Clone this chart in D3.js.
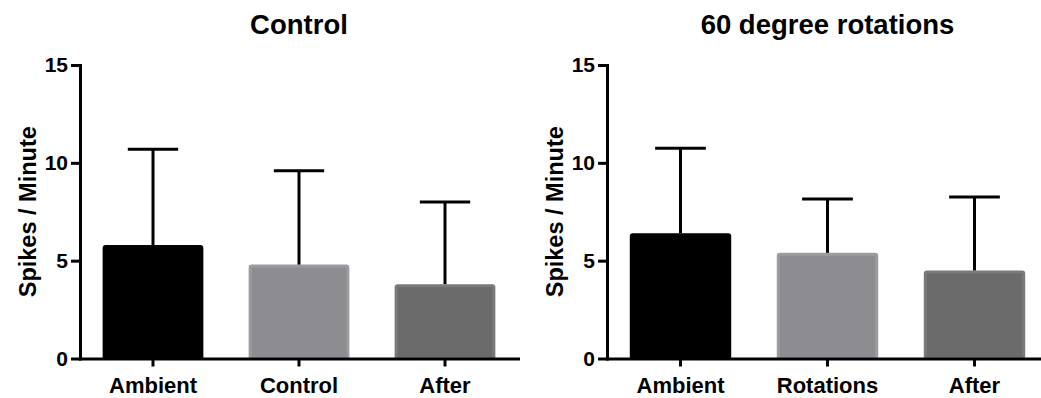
<!DOCTYPE html>
<html>
<head>
<meta charset="utf-8">
<script src="https://cdn.jsdelivr.net/npm/d3@7"></script>
<style>
  body { margin: 0; background: #fff; }
  text { font-family: "Liberation Sans", Arial, sans-serif; font-weight: bold; }
</style>
</head>
<body>
<svg id="chart"></svg>
<script>
// data
var controlCats = ["Ambient", "Control", "After"];
var controlMeans = [5.8, 4.8, 3.8];
var controlSD = [4.9, 4.8, 4.2];

var rotCats = ["Ambient", "Rotations", "After"];
var rotMeans = [6.4, 5.4, 4.5];
var rotSD = [4.35, 2.75, 3.75];

var yTicks = [0, 5, 10, 15];
var barFills = ["#000000", "#8d8d91", "#6b6b6b"];
var barEdges = ["#000000", "#9c9ca0", "#7a7a7a"];

var svgwidth = 1041, svgheight = 398;
var svg = d3.select("#chart")
  .attr("width", svgwidth)
  .attr("height", svgheight);

function drawPanel(left, right, title, cats, means, sds) {
  var x = d3.scaleBand()
    .domain(cats)
    .range([left, right])
    .paddingInner(0.31)
    .paddingOuter(0.155);

  var y = d3.scaleLinear()
    .domain([0, 15])
    .range([358.5, 65]);

  var data = cats.map(function(c, i) {
    return {cat: c, mean: means[i], sd: sds[i], i: i};
  });

  var g = svg.append("g");

  // bars
  g.selectAll("rect.bar")
    .data(data)
    .enter()
    .append("rect")
    .attr("class", "bar")
    .attr("x", function(d) { return x(d.cat) + 1.5; })
    .attr("width", x.bandwidth() - 3)
    .attr("y", function(d) { return y(d.mean) + 1.5; })
    .attr("height", function(d) { return y(0) - y(d.mean) - 1.5; })
    .attr("rx", 1.5)
    .attr("fill", function(d) { return barFills[d.i]; })
    .attr("stroke", function(d) { return barEdges[d.i]; })
    .attr("stroke-width", 3);

  // error bars (upper only)
  g.selectAll("line.err")
    .data(data)
    .enter()
    .append("line")
    .attr("class", "err")
    .attr("x1", function(d) { return x(d.cat) + x.bandwidth() / 2; })
    .attr("x2", function(d) { return x(d.cat) + x.bandwidth() / 2; })
    .attr("y1", function(d) { return y(d.mean); })
    .attr("y2", function(d) { return y(d.mean + d.sd); })
    .attr("stroke", "#000")
    .attr("stroke-width", 3);

  g.selectAll("line.cap")
    .data(data)
    .enter()
    .append("line")
    .attr("class", "cap")
    .attr("x1", function(d) { return x(d.cat) + x.bandwidth() / 4; })
    .attr("x2", function(d) { return x(d.cat) + x.bandwidth() * 3 / 4; })
    .attr("y1", function(d) { return y(d.mean + d.sd); })
    .attr("y2", function(d) { return y(d.mean + d.sd); })
    .attr("stroke", "#000")
    .attr("stroke-width", 3);

  // axes
  var yAxis = g.append("g")
    .attr("transform", "translate(" + left + ",0)")
    .call(d3.axisLeft(y).tickValues(yTicks).tickSize(9).tickSizeOuter(0).tickPadding(3));

  var xAxis = g.append("g")
    .attr("transform", "translate(0," + y(0) + ")")
    .call(d3.axisBottom(x).tickSize(8).tickSizeOuter(0).tickPadding(11));

  [yAxis, xAxis].forEach(function(a) {
    a.select(".domain").attr("stroke-width", 3).attr("stroke", "#000").attr("stroke-linecap", "square");
    a.selectAll(".tick line").attr("stroke-width", 3).attr("stroke", "#000");
    a.selectAll(".tick text").attr("fill", "#000").style("font-family", "'Liberation Sans', Arial, sans-serif").style("font-weight", "bold");
  });
  yAxis.selectAll(".tick text").style("font-size", "21px");
  xAxis.selectAll(".tick text").style("font-size", "22px");

  // y label
  svg.append("text")
    .attr("transform", "translate(" + (left - 44) + "," + ((y(0) + y(15)) / 2) + ") rotate(-90)")
    .attr("text-anchor", "middle")
    .style("font-size", "23.5px")
    .attr("fill", "#000")
    .text("Spikes / Minute");

  // title
  svg.append("text")
    .attr("x", (left + right) / 2)
    .attr("y", 34)
    .attr("text-anchor", "middle")
    .style("font-size", "27.5px")
    .attr("fill", "#000")
    .text(title);
}

drawPanel(80, 518, "Control", controlCats, controlMeans, controlSD);
drawPanel(607, 1048, "60 degree rotations", rotCats, rotMeans, rotSD);
</script>
</body>
</html>
